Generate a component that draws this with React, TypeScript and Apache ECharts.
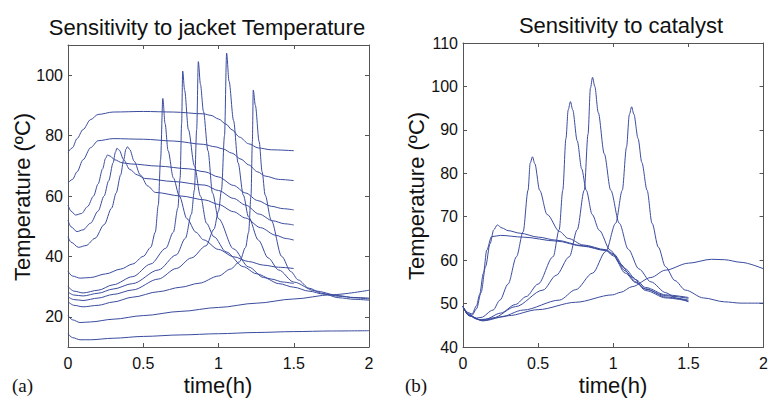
import React, { useEffect, useRef } from "react";
import * as echarts from "echarts";

type Pt = [number, number];

// ---------- Left panel: sensitivity to jacket temperature (time h, temp °C) ----------
const jacketA: Pt[] = [[0,74.5],[0.03,76],[0.06,79],[0.1,82],[0.15,85.3],[0.2,87],[0.3,87.8],[0.5,88],[0.7,87.8],[0.9,87.2],[0.95,86.7],[1.0,85.5],[1.05,83.8],[1.09,81.9],[1.14,79.5],[1.2,77.3],[1.265,75.9],[1.35,75.3],[1.5,75]];
const jacketB: Pt[] = [[0,64.3],[0.03,65.5],[0.06,68],[0.1,72],[0.15,76],[0.2,78.3],[0.3,79],[0.5,78.8],[0.7,78.2],[0.9,77.1],[0.977,76.3],[1.03,75.6],[1.088,74.2],[1.15,72.2],[1.2,70.3],[1.26,68],[1.31,66.6],[1.4,65.5],[1.5,65.1]];
const jacketC: Pt[] = [[0,57],[0.02,55],[0.05,53.7],[0.09,54.2],[0.13,56.5],[0.17,60],[0.2,64],[0.23,69],[0.25,72.5],[0.262,73.6],[0.28,73.2],[0.31,72],[0.36,71],[0.42,70.6],[0.6,69.9],[0.8,69],[0.91,68],[1.0,66.3],[1.1,63.5],[1.18,61],[1.26,58.5],[1.35,56.6],[1.43,55.8],[1.5,55.4]];
const jacketD: Pt[] = [[0,52],[0.02,49.8],[0.06,48.2],[0.1,48.8],[0.15,51],[0.2,55],[0.24,60],[0.27,65],[0.3,71],[0.315,74.5],[0.325,75.8],[0.34,75.2],[0.37,72],[0.41,68.8],[0.46,67],[0.51,65.8],[0.7,64.8],[0.91,63.6],[1.0,61.8],[1.1,59.2],[1.18,57],[1.27,54],[1.36,51.8],[1.44,50.8],[1.5,50.4]];
const jacketE: Pt[] = [[0,46.5],[0.02,44.7],[0.07,43],[0.12,43.6],[0.18,46],[0.24,50.5],[0.29,56],[0.32,61],[0.35,67],[0.37,72],[0.385,75.5],[0.395,76.3],[0.41,75.4],[0.44,71.5],[0.48,67],[0.53,63.3],[0.58,61.2],[0.75,60],[0.91,58.7],[1.0,57.2],[1.1,54.8],[1.18,52.7],[1.28,49.5],[1.38,47],[1.45,45.9],[1.5,45.4]];
const jacketF: Pt[] = [[0,35],[0.03,33.5],[0.08,32.8],[0.15,33],[0.25,34.2],[0.35,35.8],[0.43,37.5],[0.5,40],[0.55,43],[0.58,48],[0.6,57],[0.615,72],[0.63,92.3],[0.645,84],[0.665,75],[0.7,66],[0.74,60],[0.79,52.5],[0.85,48],[0.9,45.5],[1.0,42.3],[1.1,39.9],[1.2,38.3],[1.3,37.1],[1.4,36.4],[1.5,36]];
const jacketG: Pt[] = [[0,30],[0.04,28.5],[0.1,27.9],[0.2,28.8],[0.3,30.6],[0.43,33.3],[0.55,37.5],[0.65,42.7],[0.7,48],[0.73,56],[0.745,66],[0.755,84],[0.762,101.4],[0.775,95],[0.8,82],[0.84,70],[0.88,60],[0.92,51],[0.97,46.5],[1.05,41.5],[1.165,36.6],[1.25,34.3],[1.35,32.5],[1.43,31.5],[1.5,31]];
const jacketH: Pt[] = [[0,28.2],[0.04,27.2],[0.1,26.9],[0.2,27.8],[0.3,29.2],[0.43,31],[0.6,35.5],[0.72,40.5],[0.78,46],[0.82,54],[0.84,62],[0.855,82],[0.866,104.5],[0.88,97],[0.9,88],[0.93,75],[0.96,61],[1.0,52.5],[1.1,42.5],[1.2,36.5],[1.3,33],[1.4,31],[1.5,29.8],[1.6,28.5],[1.7,27.5],[1.8,26.8],[1.9,26.4],[2.0,26.2]];
const jacketI: Pt[] = [[0,26.6],[0.04,25.7],[0.1,25.4],[0.2,26.2],[0.3,27.4],[0.43,28.9],[0.6,32.5],[0.72,36],[0.82,39.5],[0.917,43.5],[0.97,49],[1.0,55],[1.02,62],[1.04,80],[1.054,107.3],[1.07,98],[1.1,85],[1.13,71],[1.165,60.3],[1.2,53],[1.265,45.4],[1.33,39.5],[1.4,35.5],[1.5,31.5],[1.64,28.6],[1.8,27],[1.9,26.3],[2.0,25.9]];
const jacketJ: Pt[] = [[0,25],[0.04,23.8],[0.1,23.3],[0.2,23.8],[0.3,24.9],[0.43,26.5],[0.6,28.3],[0.75,29.8],[0.87,31.1],[1.0,33.5],[1.08,35.8],[1.14,38.2],[1.18,43],[1.2,48],[1.216,60],[1.225,78],[1.231,95.1],[1.245,90],[1.27,78],[1.29,68],[1.31,60.3],[1.35,52],[1.42,40],[1.48,35],[1.53,32.2],[1.6,29.5],[1.686,27.8],[1.8,26.3],[1.9,25.8],[2.0,25.5]];
const jacketK: Pt[] = [[0,20.4],[0.03,19],[0.08,18.1],[0.15,18.3],[0.3,19.2],[0.5,20.4],[0.75,21.8],[1.0,23.1],[1.25,24.5],[1.5,25.9],[1.75,27.3],[2.0,28.8]];
const jacketL: Pt[] = [[0,14.4],[0.03,13.1],[0.08,12.4],[0.15,12.4],[0.3,12.9],[0.5,13.5],[0.75,14],[1.0,14.4],[1.25,14.8],[1.5,15.1],[1.75,15.3],[2.0,15.4]];

// ---------- Right panel: sensitivity to catalyst ----------
const catalystA: Pt[] = [[0,49.3],[0.03,47.8],[0.06,47.3],[0.09,48.8],[0.12,52.5],[0.15,58.5],[0.18,63.8],[0.205,67],[0.228,68.1],[0.26,67.4],[0.3,66.8],[0.38,66.2],[0.5,65.3],[0.62,64.6],[0.8,63.3],[0.95,62.3],[1.0,61],[1.08,57],[1.15,54.8],[1.215,53.3],[1.35,51.8],[1.5,51.2]];
const catalystB: Pt[] = [[0,49.3],[0.03,48],[0.06,47.6],[0.09,49.5],[0.11,52],[0.136,57],[0.158,62.3],[0.19,65.4],[0.25,65.7],[0.4,65.3],[0.62,64.4],[0.8,63.2],[0.95,62.2],[1.0,61.3],[1.08,57.5],[1.15,55],[1.215,53],[1.35,51.3],[1.5,50.6]];
const catalystC: Pt[] = [[0,49.3],[0.04,47.5],[0.08,46.6],[0.12,46.8],[0.2,48.5],[0.246,50.8],[0.3,54.5],[0.356,60.8],[0.4,66.5],[0.433,76.1],[0.447,82.3],[0.462,83.8],[0.478,82.2],[0.51,76.1],[0.56,70.5],[0.642,66.6],[0.7,65],[0.8,63.5],[0.95,62.4],[1.0,61.5],[1.08,58],[1.15,55.5],[1.215,53.7],[1.35,52],[1.5,51.4]];
const catalystD: Pt[] = [[0,49.3],[0.04,47.3],[0.1,46.3],[0.15,46.4],[0.25,47.8],[0.35,49.8],[0.42,51.6],[0.5,54.5],[0.6,60.8],[0.64,67],[0.664,76.1],[0.685,88],[0.7,94.6],[0.715,96.5],[0.73,94.6],[0.76,87.5],[0.79,81],[0.82,76.1],[0.86,70.5],[0.906,66.9],[0.98,62.3],[1.05,59],[1.12,56.2],[1.215,53.4],[1.35,51.5],[1.5,50.8]];
const catalystE: Pt[] = [[0,49.3],[0.04,47.2],[0.12,46.2],[0.2,46.7],[0.35,49.3],[0.532,53.1],[0.62,56.5],[0.708,60.8],[0.76,67],[0.807,76.1],[0.832,89],[0.848,99.6],[0.862,102.1],[0.877,100],[0.9,94],[0.94,84.5],[0.983,76.1],[1.04,68.5],[1.1,62.5],[1.17,58],[1.25,55],[1.35,52.5],[1.42,51.2],[1.5,50.4]];
const catalystF: Pt[] = [[0,49.3],[0.04,47.2],[0.13,46.1],[0.25,46.9],[0.4,48.5],[0.642,50.8],[0.75,53.2],[0.862,57],[0.95,62],[1.016,68.5],[1.06,76.1],[1.088,86],[1.107,93.5],[1.122,95.3],[1.137,93.6],[1.165,88],[1.19,82.5],[1.225,76.1],[1.258,68.5],[1.3,63],[1.347,58.5],[1.41,55.3],[1.48,53.1],[1.6,51.3],[1.74,50.4],[1.85,50.1],[2.0,50.1]];
const catalystG: Pt[] = [[0,49.3],[0.04,47.3],[0.13,46],[0.3,47.2],[0.5,48.6],[0.75,50.3],[0.994,52],[1.05,52.6],[1.126,53.9],[1.25,56],[1.347,57.7],[1.5,59.3],[1.654,60.2],[1.74,60.1],[1.85,59.5],[2,58]];

const jacketCurves = [jacketA, jacketB, jacketC, jacketD, jacketE, jacketF, jacketG, jacketH, jacketI, jacketJ, jacketK, jacketL];
const catalystCurves = [catalystA, catalystB, catalystC, catalystD, catalystE, catalystF, catalystG];

// ---------- Axis ticks ----------
const timeTicks = [0, 0.5, 1, 1.5, 2];
const leftTempTicks = [20, 40, 60, 80, 100];
const rightTempTicks = [40, 50, 60, 70, 80, 90, 100, 110];

const LINE = "#3b4c9e";
const AXIS = "#555";
const FONT = "Liberation Sans, Arial, sans-serif";

export default function App() {
  const ref = useRef<HTMLDivElement>(null);
  useEffect(() => {
    if (!ref.current) return;
    const chart = echarts.init(ref.current, null, { renderer: "svg" });

    const axisLine = { show: true, onZero: false, lineStyle: { color: AXIS, width: 1 } };
    const label = { color: "#111", fontSize: 16, fontFamily: FONT };

    const xAxisFor = (grid: number, pos: "bottom" | "top") => ({
      type: "value",
      gridIndex: grid,
      position: pos,
      min: 0,
      max: 2,
      interval: 0.5,
      axisLine,
      axisTick: { show: true, inside: true, length: 4, lineStyle: { color: AXIS }, customValues: timeTicks },
      axisLabel: pos === "bottom" ? { ...label, margin: 8, customValues: timeTicks, formatter: (v: number) => String(v) } : { show: false },
      splitLine: { show: false },
    });

    const yAxisFor = (grid: number, pos: "left" | "right", min: number, max: number, ticks: number[]) => ({
      type: "value",
      gridIndex: grid,
      position: pos,
      min,
      max,
      interval: 10,
      axisLine,
      axisTick: { show: true, inside: true, length: 4, lineStyle: { color: AXIS }, customValues: ticks },
      axisLabel: pos === "left" ? { ...label, margin: 5, customValues: ticks } : { show: false },
      splitLine: { show: false },
    });

    const mkSeries = (curves: Pt[][], axisIdx: number) =>
      curves.map((d) => ({
        type: "line",
        xAxisIndex: axisIdx,
        yAxisIndex: axisIdx,
        data: d,
        showSymbol: false,
        smooth: 0.3,
        smoothMonotone: "x",
        lineStyle: { color: LINE, width: 1 },
        silent: true,
      }));

    const titleFont = `22px ${FONT}`;

    chart.setOption({
      animation: false,
      backgroundColor: "#fff",
      grid: [
        { left: 68, top: 45, width: 301, height: 302 },
        { left: 463, top: 43, width: 303, height: 304 },
      ],
      xAxis: [xAxisFor(0, "bottom"), xAxisFor(0, "top"), xAxisFor(1, "bottom"), xAxisFor(1, "top")],
      yAxis: [
        yAxisFor(0, "left", 10, 110, leftTempTicks),
        yAxisFor(0, "right", 10, 110, leftTempTicks),
        yAxisFor(1, "left", 40, 110, rightTempTicks),
        yAxisFor(1, "right", 40, 110, rightTempTicks),
      ],
      series: [...mkSeries(jacketCurves, 0), ...mkSeries(catalystCurves, 2)],
      graphic: [
        { type: "text", x: 207, y: 27, style: { text: "Sensitivity to jacket Temperature", font: titleFont, fill: "#111", textAlign: "center", textVerticalAlign: "middle" } },
        { type: "text", x: 621, y: 25, style: { text: "Sensitivity to catalyst", font: titleFont, fill: "#111", textAlign: "center", textVerticalAlign: "middle" } },
        { type: "text", x: 22, y: 197, rotation: Math.PI / 2, style: { text: "Temperature (ºC)", font: titleFont, fill: "#111", textAlign: "center", textVerticalAlign: "middle" } },
        { type: "text", x: 416, y: 196, rotation: Math.PI / 2, style: { text: "Temperature (ºC)", font: titleFont, fill: "#111", textAlign: "center", textVerticalAlign: "middle" } },
        { type: "text", x: 218, y: 385, style: { text: "time(h)", font: titleFont, fill: "#111", textAlign: "center", textVerticalAlign: "middle" } },
        { type: "text", x: 613, y: 385, style: { text: "time(h)", font: titleFont, fill: "#111", textAlign: "center", textVerticalAlign: "middle" } },
        { type: "text", x: 12, y: 385, style: { text: "(a)", font: "19px Liberation Serif, Times New Roman, serif", fill: "#111", textAlign: "left", textVerticalAlign: "middle" } },
        { type: "text", x: 405, y: 385, style: { text: "(b)", font: "19px Liberation Serif, Times New Roman, serif", fill: "#111", textAlign: "left", textVerticalAlign: "middle" } },
      ],
    });
    return () => chart.dispose();
  }, []);

  return <div ref={ref} style={{ position: "fixed", left: 0, top: 0, width: 771, height: 398 }} />;
}
